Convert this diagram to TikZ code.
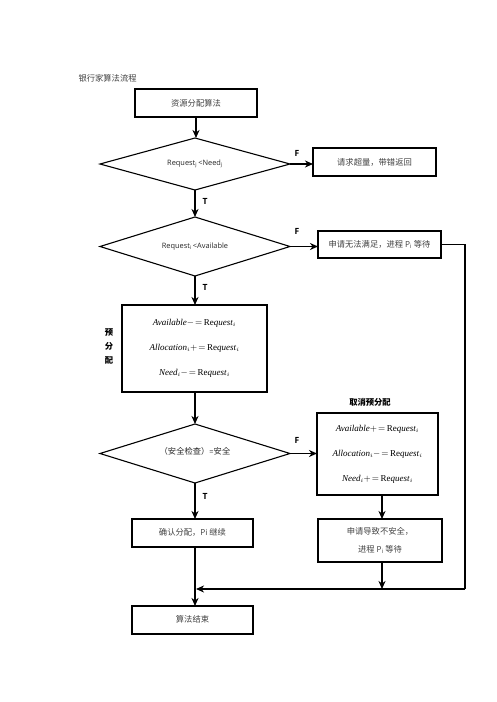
\documentclass[tikz,border=0pt]{standalone}
\usepackage{fontspec}
\setmainfont{Liberation Serif}
\newfontfamily\cjk{Noto Sans CJK SC}
\newfontfamily\uisans{Open Sans}
\usetikzlibrary{shapes.geometric,arrows.meta}
\begin{document}
\begin{tikzpicture}[x=1pt,y=-1pt,
  box/.style={draw, line width=1.1pt, inner sep=0pt, outer sep=0pt,
    font=\cjk\fontsize{8.3}{10}\selectfont, text=black!75},
  dia/.style={diamond, aspect=4, draw, line width=1.1pt, inner sep=0pt, outer sep=0pt,
    minimum width=190pt, font=\uisans\fontsize{7.4}{8}\selectfont, text=black!85},
  arr/.style={-{Stealth[length=8pt,width=7pt,inset=2.5pt]}, line width=1.6pt},
  wire/.style={line width=1.6pt},
  lbl/.style={font=\uisans\bfseries\fontsize{8.5}{9}\selectfont},
  eq/.style={font=\fontsize{9}{25}\selectfont, align=center}
]
\useasboundingbox (0,0) rectangle (496,702);

\node[anchor=west, font=\cjk\fontsize{8.3}{10}\selectfont, text=black!75] (title) at (75,78) {银行家算法流程};

\node[box, minimum width=122pt, minimum height=28pt] (start) at (196,103) {资源分配算法};

\node[dia, minimum height=52pt] (d1) at (195,164) {Request\textsubscript{j}\,<Need\textsubscript{j}};
\node[box, minimum width=123pt, minimum height=28pt] (err) at (374.5,162) {请求超量，带错返回};

\node[dia, minimum height=59pt] (d2) at (195,246.5) {Request\textsubscript{i}\,<Available};
\node[box, minimum width=123pt, minimum height=27pt] (wait) at (379.5,244.5) {申请无法满足，进程 {\uisans P\textsubscript{i}} 等待};

\node[box, eq, minimum width=145pt, minimum height=87pt, text=black] (pre) at (194.5,348.5)
  {\textit{Available}$-\!=$\,Re\textit{quest}$_i$\\
   \textit{Allocation}$_i+\!=$\,Re\textit{quest}$_i$\\
   \textit{Need}$_i-\!=$\,Re\textit{quest}$_i$};
\node[font=\cjk\bfseries\fontsize{8.3}{14}\selectfont, align=center] (prelbl) at (109,346) {预\\分\\配};

\node[dia, minimum height=59pt] (d3) at (195,453.5) {\raisebox{6pt}{{\cjk\fontsize{8.3}{10}\selectfont（安全检查）}={\cjk\fontsize{8.3}{10}\selectfont 安全}}};

\node[font=\cjk\bfseries\fontsize{8.3}{10}\selectfont] (cancellbl) at (370,402) {取消预分配};
\node[box, eq, minimum width=121pt, minimum height=82pt, text=black] (cancel) at (377.5,454)
  {\textit{Available}$+\!=$\,Re\textit{quest}$_i$\\
   \textit{Allocation}$_i-\!=$\,Re\textit{quest}$_i$\\
   \textit{Need}$_i+\!=$\,Re\textit{quest}$_i$};

\node[box, minimum width=121pt, minimum height=28pt] (confirm) at (192.5,533) {\raisebox{3pt}{确认分配，{\uisans Pi} 继续}};
\node[box, minimum width=124pt, minimum height=43pt, align=center, font=\cjk\fontsize{8.3}{18}\selectfont] (unsafe) at (380,540.5) {申请导致不安全，\\进程 {\uisans P\textsubscript{i}} 等待};

\node[box, minimum width=121pt, minimum height=28pt] (end) at (192.5,620) {\raisebox{3pt}{算法结束}};

\coordinate (r1) at (465,244.5);
\coordinate (r2) at (465,589);
\coordinate (m) at (196,589);
\coordinate (u) at (382,589);

\draw[arr] (196,117) -- (196,138);
\draw[arr] (d1.east) -- (d1.east -| err.west);
\draw[arr] (d1.south) -- (d2.north);
\draw[arr] (d2.east) -- (d2.east -| wait.west);
\draw[arr] (d2.south) -- (d2.south |- pre.north);
\draw[arr] (d2.south |- pre.south) -- (d3.north);
\draw[arr] (d3.east) -- (d3.east -| cancel.west);
\draw[arr] (d3.south) -- (d3.south |- confirm.north);
\draw[arr] (382,495) -- (382,519);
\draw[arr] (382,562) -- (u);
\draw[arr] (d3.south |- confirm.south) -- (d3.south |- end.north);
\draw[wire] (wait.east) -- (r1) -- (r2);
\draw[arr] (r2) -- (m);

\node[lbl] (f1) at (297,153) {F};
\node[lbl] (f2) at (297,231) {F};
\node[lbl] (f3) at (297,440) {F};
\node[lbl] (t1) at (205,201) {T};
\node[lbl] (t2) at (205,287) {T};
\node[lbl] (t3) at (205,496) {T};
\end{tikzpicture}
\end{document}
